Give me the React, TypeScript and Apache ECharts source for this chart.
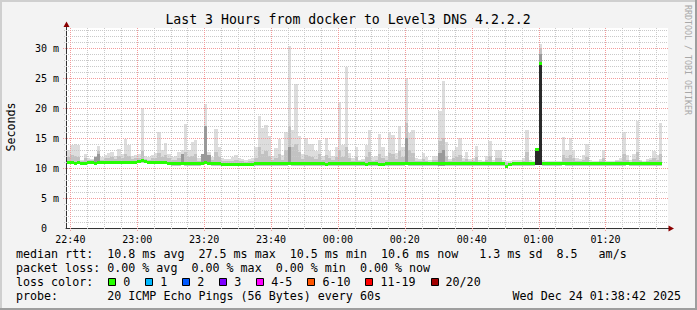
import React, { useEffect, useRef } from "react";
import * as echarts from "echarts";

// x values are minutes after 22:00 (Dec 23); step i covers [39+i, 40+i]
const firstStepMinute = 39;
const axisMinMinute = 38.7; // 22:38:42
const axisMaxMinute = 218.7; // 01:38:42

const medianRtt = [
  10.9, 10.9, 10.8, 10.9, 10.8, 10.8, 10.9, 10.9, 10.8, 10.9,
  10.9, 10.9, 10.9, 11.0, 11.0, 11.0, 10.9, 11.0, 11.0, 11.0,
  11.0, 11.1, 11.2, 11.1, 11.0, 11.0, 11.0, 11.0, 10.9, 10.9,
  10.8, 10.7, 10.7, 10.7, 10.8, 10.7, 10.7, 10.7, 10.7, 10.7,
  10.8, 11.0, 10.8, 10.7, 10.7, 10.7, 10.6, 10.6, 10.6, 10.6,
  10.6, 10.6, 10.6, 10.6, 10.6, 10.6, 10.7, 10.7, 10.7, 10.7,
  10.7, 10.7, 10.7, 10.7, 10.7, 10.7, 10.8, 10.7, 10.7, 10.7,
  10.7, 10.7, 10.7, 10.7, 10.7, 10.7, 10.7, 10.6, 10.7, 10.7,
  10.7, 10.7, 10.7, 10.7, 10.7, 10.7, 10.7, 10.7, 10.7, 10.6,
  10.7, 10.7, 10.7, 10.6, 10.6, 10.7, 10.7, 10.7, 10.7, 10.7,
  10.7, 10.8, 10.7, 10.7, 10.7, 10.7, 10.7, 10.7, 10.7, 10.7,
  10.7, 10.7, 10.7, 10.7, 10.7, 10.7, 10.7, 10.7, 10.7, 10.7,
  10.7, 10.7, 10.7, 10.7, 10.7, 10.7, 10.7, 10.7, 10.7, 10.7,
  10.7, 10.3, 10.6, 10.7, 10.7, 10.7, 10.7, 10.7, 10.7, 10.7,
  13.1, 27.4, 10.7, 10.7, 10.7, 10.7, 10.7, 10.7, 10.8, 10.7,
  10.7, 10.7, 10.7, 10.7, 10.7, 10.7, 10.7, 10.7, 10.7, 10.7,
  10.7, 10.7, 10.7, 10.7, 10.7, 10.7, 10.7, 10.8, 10.7, 10.7,
  10.7, 10.7, 10.7, 10.7, 10.7, 10.7, 10.7, 10.7,
];

const pingMin = [
  10.6, 10.6, 10.5, 10.6, 10.5, 10.5, 10.6, 10.6, 10.5, 10.6,
  10.6, 10.6, 10.6, 10.7, 10.7, 10.7, 10.6, 10.7, 10.7, 10.7,
  10.7, 10.8, 10.8, 10.8, 10.7, 10.7, 10.7, 10.7, 10.6, 10.6,
  10.5, 10.4, 10.4, 10.4, 10.5, 10.4, 10.4, 10.4, 10.4, 10.4,
  10.5, 10.6, 10.5, 10.4, 10.4, 10.4, 10.3, 10.3, 10.3, 10.3,
  10.3, 10.3, 10.3, 10.3, 10.3, 10.3, 10.4, 10.4, 10.4, 10.4,
  10.4, 10.4, 10.4, 10.4, 10.4, 10.4, 10.5, 10.4, 10.4, 10.4,
  10.4, 10.4, 10.4, 10.4, 10.4, 10.4, 10.4, 10.3, 10.4, 10.4,
  10.4, 10.4, 10.4, 10.4, 10.4, 10.4, 10.4, 10.4, 10.4, 10.3,
  10.4, 10.4, 10.4, 10.3, 10.3, 10.4, 10.4, 10.4, 10.4, 10.4,
  10.4, 10.5, 10.4, 10.4, 10.4, 10.4, 10.4, 10.4, 10.4, 10.4,
  10.4, 10.4, 10.4, 10.4, 10.4, 10.4, 10.4, 10.4, 10.4, 10.4,
  10.4, 10.4, 10.4, 10.4, 10.4, 10.4, 10.4, 10.4, 10.4, 10.4,
  10.4, 10.0, 10.3, 10.4, 10.4, 10.4, 10.4, 10.4, 10.4, 10.4,
  10.5, 10.5, 10.4, 10.4, 10.4, 10.4, 10.4, 10.4, 10.5, 10.4,
  10.4, 10.4, 10.4, 10.4, 10.4, 10.4, 10.4, 10.4, 10.4, 10.4,
  10.4, 10.4, 10.4, 10.4, 10.4, 10.4, 10.4, 10.5, 10.4, 10.4,
  10.4, 10.4, 10.4, 10.4, 10.4, 10.4, 10.4, 10.4,
];

const smokeHi = [
  11.8, 12.2, 12.0, 11.9, 11.2, 11.6, 11.3, 11.3, 11.6, 12.8,
  11.4, 11.6, 11.7, 11.8, 11.5, 12.0, 11.7, 12.4, 12.0, 11.5,
  11.6, 11.7, 12.8, 11.5, 11.4, 11.6, 11.7, 12.5, 11.9, 12.2,
  11.6, 11.3, 11.4, 11.7, 12.2, 12.6, 11.8, 12.0, 12.3, 11.2,
  11.6, 16.0, 12.0, 11.3, 12.6, 11.8, 11.2, 11.1, 11.1, 11.2,
  11.4, 11.2, 11.1, 11.0, 11.1, 11.1, 11.6, 13.5, 12.4, 12.8,
  12.0, 11.3, 11.6, 12.4, 11.4, 13.0, 17.0, 13.5, 14.0, 12.6,
  11.5, 12.2, 12.0, 11.9, 11.5, 12.3, 11.3, 12.2, 11.6, 11.3,
  11.9, 13.0, 11.9, 13.5, 11.6, 11.1, 11.8, 11.1, 11.1, 11.9,
  12.6, 11.2, 11.3, 12.4, 11.7, 11.3, 12.5, 12.3, 11.5, 12.8,
  11.8, 17.5, 13.0, 12.5, 11.1, 11.1, 11.5, 11.2, 11.0, 11.3,
  11.3, 14.5, 15.0, 12.0, 11.1, 11.6, 11.8, 12.2, 11.1, 11.5,
  11.1, 11.1, 11.8, 11.0, 11.0, 11.3, 12.0, 11.0, 11.6, 11.6,
  11.0, 10.9, 10.9, 11.0, 11.0, 11.0, 11.1, 12.6, 11.0, 11.0,
  13.2, 30.0, 11.0, 11.0, 11.0, 10.9, 10.9, 11.0, 12.2, 11.6,
  12.2, 11.6, 11.1, 11.1, 11.4, 11.9, 11.0, 10.9, 10.9, 11.1,
  11.6, 11.0, 10.9, 11.0, 11.1, 11.2, 12.3, 11.4, 11.0, 11.5,
  12.6, 11.1, 11.0, 11.2, 11.3, 11.7, 11.4, 12.4,
];

const smokeMax = [
  13.0, 13.9, 14.0, 13.8, 11.4, 12.3, 11.6, 11.5, 12.0, 13.6,
  11.8, 12.2, 12.5, 12.6, 12.0, 13.2, 12.3, 14.8, 13.9, 12.0,
  12.2, 12.4, 20.0, 12.0, 11.9, 12.2, 12.5, 16.0, 13.0, 14.2,
  12.3, 11.8, 12.0, 12.6, 13.0, 17.4, 13.0, 14.4, 14.6, 11.7,
  12.0, 20.7, 12.7, 11.8, 16.5, 13.5, 11.7, 11.5, 11.5, 11.8,
  12.2, 11.7, 11.5, 11.4, 11.5, 11.6, 13.5, 18.7, 16.7, 17.2,
  15.3, 12.0, 13.4, 14.8, 12.2, 16.0, 30.4, 16.4, 24.0, 15.3,
  12.3, 15.0, 14.0, 14.0, 12.9, 14.7, 12.0, 15.0, 12.9, 12.0,
  13.5, 21.0, 13.9, 26.8, 12.5, 11.7, 13.5, 11.4, 11.5, 13.9,
  16.3, 11.8, 12.0, 15.7, 13.5, 12.0, 16.0, 15.5, 12.5, 17.0,
  13.5, 25.0, 15.8, 16.3, 11.7, 11.5, 12.5, 11.8, 11.4, 12.0,
  12.0, 19.5, 24.5, 14.4, 11.5, 12.9, 13.5, 15.0, 11.6, 12.6,
  11.5, 11.6, 13.7, 11.4, 11.2, 12.0, 14.5, 11.4, 13.0, 13.0,
  11.3, 11.2, 11.2, 11.3, 11.4, 11.4, 11.6, 16.3, 11.4, 11.2,
  13.3, 30.7, 11.3, 11.2, 11.2, 11.1, 11.1, 11.2, 15.1, 13.0,
  15.0, 13.0, 11.6, 11.5, 12.2, 14.0, 11.3, 11.1, 11.1, 11.5,
  13.0, 11.2, 11.1, 11.2, 11.4, 11.6, 16.0, 12.2, 11.3, 12.4,
  17.9, 11.4, 11.2, 11.5, 11.7, 12.8, 12.2, 17.5,
];

// [step index, top of darker inner smoke]
const coreSmoke = [
  [8, 11.9], [9, 12.4], [34, 12.3], [40, 12.4], [41, 17.0], [42, 12.2],
  [66, 13.5], [101, 15.0], [111, 12.5], [112, 13.0], [141, 29.0],
];
const solidSmoke = [[140, 13.3], [141, 27.6]];

const xTickMinutes = [40, 60, 80, 100, 120, 140, 160, 180, 200];
const xTickLabels = ["22:40", "23:00", "23:20", "23:40", "00:00", "00:20", "00:40", "01:00", "01:20"];
const xMinorMinutes = [45, 50, 55, 65, 70, 75, 85, 90, 95, 105, 110, 115, 125, 130, 135, 145, 150, 155, 165, 170, 175, 185, 190, 195, 205, 210, 215];
const yMajorLines = [5, 10, 15, 20, 25, 30];
const yMinorLines = [1, 2, 3, 4, 6, 7, 8, 9, 11, 12, 13, 14, 16, 17, 18, 19, 21, 22, 23, 24, 26, 27, 28, 29, 31, 32, 33];

const lossLabels = ["0", "1", "2", "3", "4-5", "6-10", "11-19", "20/20"];
const lossColors = ["#26ff00", "#00b8ff", "#0059ff", "#7e00ff", "#ff00ff", "#ff5500", "#ff0000", "#a10000"];

const titleText = "Last 3 Hours from docker to Level3 DNS 4.2.2.2";
const legendRtt = "median rtt:  10.8 ms avg  27.5 ms max  10.5 ms min  10.6 ms now   1.3 ms sd  8.5   am/s";
const legendLoss = "packet loss: 0.00 % avg  0.00 % max  0.00 % min  0.00 % now";
const legendProbe = "probe:       20 ICMP Echo Pings (56 Bytes) every 60s";
const lossColorTitle = "loss color:";
const dateText = "Wed Dec 24 01:38:42 2025";
const watermark = "RRDTOOL / TOBI OETIKER";

const MONO = "'DejaVu Sans Mono', monospace";
const LEG_FS = 11.66;
const CH = LEG_FS * 0.602;
const LEG_X = 16;

function rowTexts(str: string, y: number) {
  const out: any[] = [];
  const re = /\S+(?: \S+)*/g;
  let m: RegExpExecArray | null;
  while ((m = re.exec(str)) !== null) {
    out.push({
      type: "text",
      x: LEG_X + m.index * CH,
      y,
      style: { text: m[0], fill: "#000", font: `${LEG_FS}px ${MONO}`, textAlign: "left", textVerticalAlign: "middle" },
      z: 100,
    });
  }
  return out;
}

function vLines(vals: number[], color: string, ext: number, z: number) {
  return {
    type: "custom",
    silent: true,
    clip: false,
    z,
    data: vals.map((v) => [v, 0]),
    encode: { x: 0, y: 1 },
    renderItem: (params: any, api: any) => {
      const cs = params.coordSys;
      const x = Math.round(api.coord([api.value(0), 0])[0]) + 0.5;
      return {
        type: "line",
        shape: { x1: x, y1: cs.y, x2: x, y2: cs.y + cs.height + ext },
        style: { stroke: color, lineWidth: 1, lineDash: [1, 1] },
      };
    },
  };
}

function hLines(vals: number[], color: string, ext: number, z: number) {
  return {
    type: "custom",
    silent: true,
    clip: false,
    z,
    data: vals.map((v) => [axisMinMinute, v]),
    encode: { x: 0, y: 1 },
    renderItem: (params: any, api: any) => {
      const cs = params.coordSys;
      const y = Math.round(api.coord([axisMinMinute, api.value(1)])[1]) + 0.5;
      return {
        type: "line",
        shape: { x1: cs.x - ext, y1: y, x2: cs.x + cs.width, y2: y },
        style: { stroke: color, lineWidth: 1, lineDash: [1, 1] },
      };
    },
  };
}

function stepRect(api: any, s: number, lo: number, hi: number, fill: string) {
  const xa = Math.round(api.coord([s, 0])[0]);
  const xb = Math.round(api.coord([s + 1, 0])[0]);
  const yLo = Math.round(api.coord([s, lo])[1]);
  const yHi = Math.round(api.coord([s, hi])[1]);
  return { type: "rect", shape: { x: xa, y: yHi, width: xb - xa, height: Math.max(0, yLo - yHi) }, style: { fill } };
}

export default function App() {
  const ref = useRef<HTMLDivElement>(null);
  useEffect(() => {
    if (!ref.current) return;
    const chart = echarts.init(ref.current, undefined, { renderer: "svg", width: 697, height: 310 });

    const smokeData = smokeMax.map((mx, i) => [firstStepMinute + i, pingMin[i], smokeHi[i], mx]);
    const coreData = coreSmoke.map(([i, top]) => [firstStepMinute + i, pingMin[i], top]);
    const solidData = solidSmoke.map(([i, top]) => [firstStepMinute + i, pingMin[i], top]);
    const medianData = medianRtt.map((m, i) => [firstStepMinute + i, m]);

    const legendGraphics: any[] = [];
    legendGraphics.push(...rowTexts(legendRtt, 254));
    legendGraphics.push(...rowTexts(legendLoss, 268));
    legendGraphics.push(...rowTexts(lossColorTitle, 282));
    legendGraphics.push(...rowTexts(legendProbe, 296));
    let bx = LEG_X + 13 * CH + 1;
    lossLabels.forEach((lab, k) => {
      legendGraphics.push({
        type: "rect",
        shape: { x: Math.round(bx) + 0.5, y: 278.5, width: 7, height: 7 },
        style: { fill: lossColors[k], stroke: "#000", lineWidth: 1 },
        z: 100,
      });
      legendGraphics.push({
        type: "text",
        x: bx + 15,
        y: 282,
        style: { text: lab, fill: "#000", font: `${LEG_FS}px ${MONO}`, textAlign: "left", textVerticalAlign: "middle" },
        z: 100,
      });
      bx += 30 + CH * lab.length;
    });

    const option: any = {
      animation: false,
      backgroundColor: "#f3f3f3",
      grid: { left: 66, top: 28, width: 602, height: 200, show: true, backgroundColor: "#ffffff", borderWidth: 0 },
      xAxis: {
        type: "value",
        min: axisMinMinute,
        max: axisMaxMinute,
        axisLine: { show: true, onZero: false, lineStyle: { color: "#333333", width: 1 } },
        axisTick: { show: false },
        splitLine: { show: false },
        axisLabel: {
          customValues: xTickMinutes,
          formatter: (v: number) => {
            const k = xTickMinutes.indexOf(Math.round(v));
            return k >= 0 ? xTickLabels[k] : "";
          },
          fontFamily: MONO,
          fontSize: 10,
          color: "#000",
          margin: 6,
        },
      },
      yAxis: {
        type: "value",
        min: 0,
        max: 100 / 3,
        interval: 5,
        axisLine: { show: true, lineStyle: { color: "#333333", width: 1 } },
        axisTick: { show: false },
        splitLine: { show: false },
        axisLabel: {
          formatter: (v: number) => (Math.abs(v % 5) > 1e-6 ? "" : v === 0 ? "0\u00a0\u00a0" : `${v} m`),
          fontFamily: MONO,
          fontSize: 10,
          color: "#000",
          margin: 7,
        },
      },
      series: [
        {
          type: "custom",
          silent: true,
          z: 2,
          data: smokeData,
          encode: { x: 0, y: 3 },
          renderItem: (params: any, api: any) => {
            const s = api.value(0);
            return {
              type: "group",
              children: [
                stepRect(api, s, api.value(1), api.value(3), "#dddddd"),
                stepRect(api, s, api.value(1), api.value(2), "#c2c2c2"),
              ],
            };
          },
        },
        vLines(xMinorMinutes, "#c9c9c9", 2, 3),
        hLines(yMinorLines, "#c9c9c9", 2, 3),
        vLines(xTickMinutes, "#f39a9a", 3, 3),
        hLines(yMajorLines, "#f39a9a", 3, 3),
        {
          type: "custom",
          silent: true,
          z: 4,
          data: coreData,
          encode: { x: 0, y: 2 },
          renderItem: (params: any, api: any) => stepRect(api, api.value(0), api.value(1), api.value(2), "#999999"),
        },
        {
          type: "custom",
          silent: true,
          z: 5,
          data: solidData,
          encode: { x: 0, y: 2 },
          renderItem: (params: any, api: any) => stepRect(api, api.value(0), api.value(1), api.value(2), "#2a2a2a"),
        },
        {
          type: "custom",
          silent: true,
          z: 6,
          data: medianData,
          encode: { x: 0, y: 1 },
          renderItem: (params: any, api: any) => {
            const s = api.value(0);
            const xa = Math.round(api.coord([s, 0])[0]);
            const xb = Math.round(api.coord([s + 1, 0])[0]);
            const yc = api.coord([s, api.value(1)])[1];
            const y0 = Math.round(yc - 1.5);
            return { type: "rect", shape: { x: xa, y: y0, width: xb - xa, height: 3 }, style: { fill: "#26ff00" } };
          },
        },
      ],
      graphic: [
        { type: "rect", shape: { x: 0, y: 0, width: 697, height: 2 }, style: { fill: "#cfcfcf" }, z: 100 },
        { type: "rect", shape: { x: 0, y: 0, width: 2, height: 310 }, style: { fill: "#cfcfcf" }, z: 100 },
        { type: "rect", shape: { x: 0, y: 308, width: 697, height: 2 }, style: { fill: "#9e9e9e" }, z: 101 },
        { type: "rect", shape: { x: 695, y: 0, width: 2, height: 310 }, style: { fill: "#9e9e9e" }, z: 101 },
        {
          type: "text",
          x: 348,
          y: 19,
          style: { text: titleText, fill: "#000", font: `13.2px ${MONO}`, textAlign: "center", textVerticalAlign: "middle" },
          z: 100,
        },
        {
          type: "text",
          x: 11,
          y: 127,
          rotation: Math.PI / 2,
          style: { text: "Seconds", fill: "#000", font: `${LEG_FS}px ${MONO}`, textAlign: "center", textVerticalAlign: "middle" },
          z: 100,
        },
        {
          type: "text",
          x: 688,
          y: 5,
          rotation: -Math.PI / 2,
          style: { text: watermark, fill: "#a8a8a8", font: `8.3px ${MONO}`, textAlign: "left", textVerticalAlign: "middle" },
          z: 100,
        },
        { type: "line", shape: { x1: 66.5, y1: 28, x2: 66.5, y2: 25 }, style: { stroke: "#333333", lineWidth: 1 }, z: 100 },
        { type: "polygon", shape: { points: [[63.5, 27], [69.5, 27], [66.5, 21.5]] }, style: { fill: "#8b0000" }, z: 101 },
        { type: "line", shape: { x1: 668, y1: 228.5, x2: 670, y2: 228.5 }, style: { stroke: "#333333", lineWidth: 1 }, z: 100 },
        { type: "polygon", shape: { points: [[668.5, 225.5], [668.5, 231.5], [674, 228.5]] }, style: { fill: "#8b0000" }, z: 101 },
        {
          type: "text",
          x: 681,
          y: 296,
          style: { text: dateText, fill: "#000", font: `${LEG_FS}px ${MONO}`, textAlign: "right", textVerticalAlign: "middle" },
          z: 100,
        },
        ...legendGraphics,
      ],
    };
    chart.setOption(option);
    return () => chart.dispose();
  }, []);
  return <div ref={ref} style={{ position: "fixed", left: 0, top: 0, width: 697, height: 310 }} />;
}
